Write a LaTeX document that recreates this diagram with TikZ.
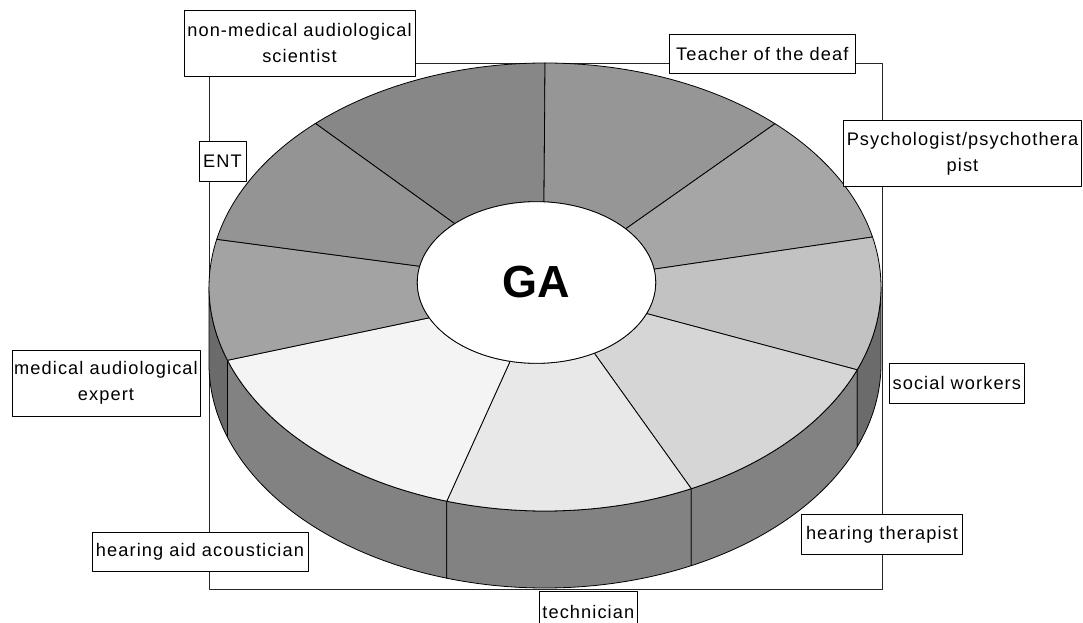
\documentclass[tikz,border=0pt]{standalone}
\usepackage{fontspec}
\setmainfont{Liberation Sans}
\newfontfamily\labfont[LetterSpace=6]{Liberation Sans}
\newcommand\pieSector[5]{%
  \path[edge, fill=#1] ({545+336*cos(#2)},{335+224*sin(#2)})
    arc[start angle=#2, end angle=#3, x radius=336pt, y radius=224pt]
    -- ({536.5+119.2*cos(#5)},{339.5+80.8*sin(#5)})
    arc[start angle=#5, end angle=#4, x radius=119.2pt, y radius=80.8pt]
    -- cycle;}
\newcommand\sidePiece[3]{%
  \path[edge, fill=#1] ({545+336*cos(#2)},{335+224*sin(#2)})
    arc[start angle=#2, end angle=#3, x radius=336pt, y radius=224pt]
    -- ({545+336*cos(#3)},{258+224*sin(#3)})
    arc[start angle=#3, end angle=#2, x radius=336pt, y radius=224pt]
    -- cycle;}
\definecolor{cA}{gray}{0.53}
\definecolor{cB}{gray}{0.59}
\definecolor{cC}{gray}{0.65}
\definecolor{cD}{gray}{0.76}
\definecolor{cE}{gray}{0.84}
\definecolor{cF}{gray}{0.91}
\definecolor{cG}{gray}{0.955}
\definecolor{cH}{gray}{0.64}
\definecolor{cI}{gray}{0.58}
\definecolor{sMain}{gray}{0.51}
\definecolor{sDark}{gray}{0.42}
\begin{document}
\begin{tikzpicture}[x=1pt,y=1pt, line join=round,
  edge/.style={draw=black, line width=0.8pt},
  frame/.style={draw=black!85, line width=0.9pt},
  lab/.style={draw=black, fill=white, line width=0.9pt, inner sep=0pt, align=center,
    font=\labfont\fontsize{18.2}{26}\selectfont},
  galab/.style={font=\bfseries\fontsize{45}{50}\selectfont, inner sep=0pt}]
\useasboundingbox (0,0) rectangle (1083,622);
\clip (0,0) rectangle (1083,622);
% background frame
\draw[frame] (209,33) rectangle (882,559);
% side wall
\sidePiece{sDark}{180}{199.1}
\sidePiece{sMain}{199.1}{253}
\sidePiece{sMain}{253}{295.8}
\sidePiece{sMain}{295.8}{338.3}
\sidePiece{sDark}{338.3}{360}
% top face sectors
\pieSector{cA}{133.1}{90}{133.3}{86.4}
\pieSector{cB}{90}{46.8}{86.4}{41.6}
\pieSector{cC}{46.8}{12.9}{41.6}{9.5}
\pieSector{cD}{12.9}{-21.7}{9.5}{-22.6}
\pieSector{cE}{-21.7}{-64.2}{-22.6}{-61}
\pieSector{cF}{-64.2}{-107}{-61}{-102.8}
\pieSector{cG}{-107}{-160.9}{-102.8}{-154.1}
\pieSector{cH}{-160.9}{-192.3}{-154.1}{-191.6}
\pieSector{cI}{167.7}{133.1}{168.4}{133.3}
% hub
\draw[edge, fill=white] (536.5,339.5) ellipse [x radius=119.2pt, y radius=80.8pt];
\node[galab] (ga) at (536,339.5) {GA};
% labels
\node[lab, minimum width=231pt, minimum height=66pt] (nonmed) at (299.5,579) {non-medical audiological\\scientist};
\node[lab, minimum width=47pt, minimum height=40pt] (ent) at (222.5,461) {ENT};
\node[lab, minimum width=186.7pt, minimum height=39.3pt] (teacher) at (762.3,568.3) {Teacher of the deaf};
\node[lab, minimum width=238.4pt, minimum height=65.7pt] (psych) at (962.5,468.2) {Psychologist/psychothera\\pist};
\node[lab, minimum width=135pt, minimum height=40pt] (social) at (956.8,238.7) {social workers};
\node[lab, minimum width=160.6pt, minimum height=40pt] (therap) at (882,87.7) {hearing therapist};
\node[lab, minimum width=98.7pt, minimum height=40pt] (tech) at (588.3,10.3) {technician};
\node[lab, minimum width=216pt, minimum height=39pt] (acoust) at (200,70.5) {hearing aid acoustician};
\node[lab, minimum width=188pt, minimum height=66pt] (medexp) at (106,239) {medical audiological\\expert};
\end{tikzpicture}
\end{document}
